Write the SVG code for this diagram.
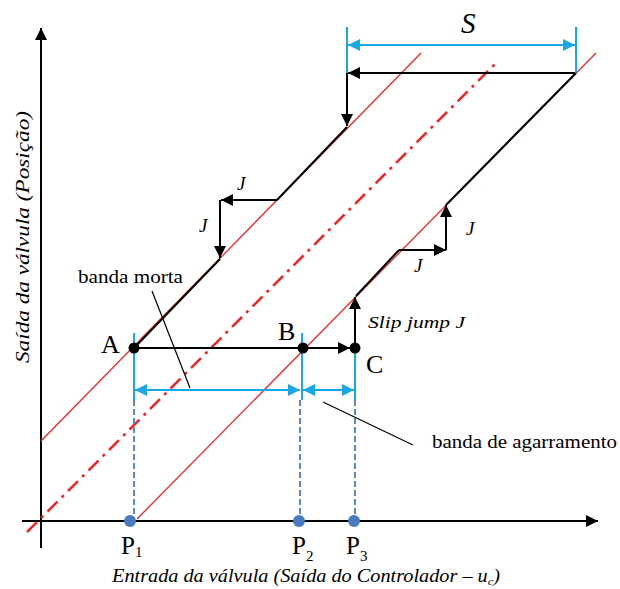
<svg xmlns="http://www.w3.org/2000/svg" width="620" height="589" viewBox="0 0 620 589">
<defs>
<marker id="ahb" viewBox="0 0 10 10" refX="10" refY="5" markerWidth="13" markerHeight="12" orient="auto-start-reverse" markerUnits="userSpaceOnUse"><path d="M0,0 L10,5 L0,10 z" fill="#000"/></marker>
<marker id="ahc" viewBox="0 0 10 10" refX="10" refY="5" markerWidth="13" markerHeight="12" orient="auto-start-reverse" markerUnits="userSpaceOnUse"><path d="M0,0 L10,5 L0,10 z" fill="#1aa7e6"/></marker>
</defs>
<style>
.ax{stroke:#000;stroke-width:2;fill:none}
.red{stroke:#f02828;stroke-width:1.3;fill:none}
.dd{stroke:#f02828;stroke-width:2.6;fill:none;stroke-dasharray:14 6 3 6}
.blk{stroke:#000;stroke-width:2;fill:none}
.cy{stroke:#1aa7e6;stroke-width:2;fill:none}
.bd{stroke:#5b8ac8;stroke-width:2;fill:none;stroke-dasharray:6 3}
.ld{stroke:#000;stroke-width:1.2;fill:none}
</style>
<g id="axes">
<line class="ax" x1="41" y1="548" x2="41" y2="28" marker-end="url(#ahb)"/>
<line class="ax" x1="22" y1="521" x2="598" y2="521" marker-end="url(#ahb)"/>
</g>
<g id="ref-lines">
<line class="red" x1="41" y1="441" x2="421" y2="53"/>
<line class="red" x1="137" y1="519" x2="596" y2="53"/>
<line class="dd" x1="27" y1="532" x2="498" y2="61"/>
</g>
<g id="connectors">
<line class="blk" x1="134" y1="348" x2="220" y2="259"/>
<line class="blk" x1="277" y1="200" x2="347" y2="127"/>
<line class="blk" x1="576" y1="73" x2="446" y2="205"/>
<line class="blk" x1="399" y1="250" x2="356" y2="296"/>
<line class="blk" x1="576" y1="73" x2="348" y2="73" marker-end="url(#ahb)"/>
<line class="blk" x1="347" y1="73" x2="347" y2="126" marker-end="url(#ahb)"/>
<line class="blk" x1="277" y1="200" x2="221" y2="200" marker-end="url(#ahb)"/>
<line class="blk" x1="220" y1="200" x2="220" y2="258" marker-end="url(#ahb)"/>
<line class="blk" x1="399" y1="250" x2="446" y2="250" marker-end="url(#ahb)"/>
<line class="blk" x1="446" y1="250" x2="446" y2="205" marker-end="url(#ahb)"/>
<line class="blk" x1="355" y1="348" x2="355" y2="297" marker-end="url(#ahb)"/>
<line class="blk" x1="134" y1="348" x2="350" y2="348" marker-end="url(#ahb)"/>
<line class="cy" x1="347" y1="27" x2="347" y2="73"/>
<line class="cy" x1="576" y1="27" x2="576" y2="73"/>
<line class="cy" x1="348" y1="45" x2="575" y2="45" marker-start="url(#ahc)" marker-end="url(#ahc)"/>
<line class="cy" x1="134" y1="333" x2="134" y2="400"/>
<line class="cy" x1="302" y1="333" x2="302" y2="400"/>
<line class="cy" x1="355" y1="348" x2="355" y2="400"/>
<line class="bd" x1="134" y1="400" x2="134" y2="521"/>
<line class="bd" x1="300" y1="400" x2="300" y2="521"/>
<line class="bd" x1="355" y1="400" x2="355" y2="521"/>
<line class="cy" x1="135" y1="390" x2="300" y2="390" marker-start="url(#ahc)" marker-end="url(#ahc)"/>
<line class="cy" x1="303" y1="390" x2="354" y2="390" marker-start="url(#ahc)" marker-end="url(#ahc)"/>
<line class="ld" x1="152" y1="291" x2="190" y2="388"/>
<line class="ld" x1="323" y1="402" x2="413" y2="445"/>
</g>
<g font-family="Liberation Serif, Times New Roman, serif" fill="#000">
<g id="point-A"><circle cx="134" cy="348" r="5.5"/><text x="101" y="353" font-size="26">A</text></g>
<g id="point-B"><circle cx="303" cy="348" r="5.5"/><text x="278" y="340" font-size="26">B</text></g>
<g id="point-C"><circle cx="355" cy="348" r="5.5"/><text x="366" y="373" font-size="26">C</text></g>
<g id="P1"><circle cx="130" cy="521" r="6" fill="#4a7bc2"/><text x="121" y="554" font-size="25">P<tspan font-size="15" dy="3">1</tspan></text></g>
<g id="P2"><circle cx="299" cy="521" r="6" fill="#4a7bc2"/><text x="292" y="554" font-size="25">P<tspan font-size="15" dy="7">2</tspan></text></g>
<g id="P3"><circle cx="354" cy="521" r="6" fill="#4a7bc2"/><text x="346" y="554" font-size="25">P<tspan font-size="15" dy="7">3</tspan></text></g>
<g id="labels" font-style="italic">
<text x="461" y="33" font-size="29">S</text>
<text x="237" y="190" font-size="19">J</text>
<text x="199" y="232" font-size="19">J</text>
<text x="466" y="235" font-size="19">J</text>
<text x="414" y="272" font-size="19">J</text>
<text x="368" y="328" font-size="17" textLength="97" lengthAdjust="spacingAndGlyphs">Slip jump J</text>
<text x="112" y="582" font-size="18" textLength="388" lengthAdjust="spacingAndGlyphs">Entrada da válvula (Saída do Controlador – u<tspan font-size="11" dy="3">c</tspan><tspan dy="-3">)</tspan></text>
<text transform="translate(29,237) rotate(-90)" text-anchor="middle" font-size="19" textLength="252" lengthAdjust="spacingAndGlyphs">Saída da válvula (Posição)</text>
</g>
<text x="78" y="283" font-size="19" textLength="105" lengthAdjust="spacingAndGlyphs">banda morta</text>
<text x="432" y="448" font-size="19" textLength="185" lengthAdjust="spacingAndGlyphs">banda de agarramento</text>
</g>
</svg>
